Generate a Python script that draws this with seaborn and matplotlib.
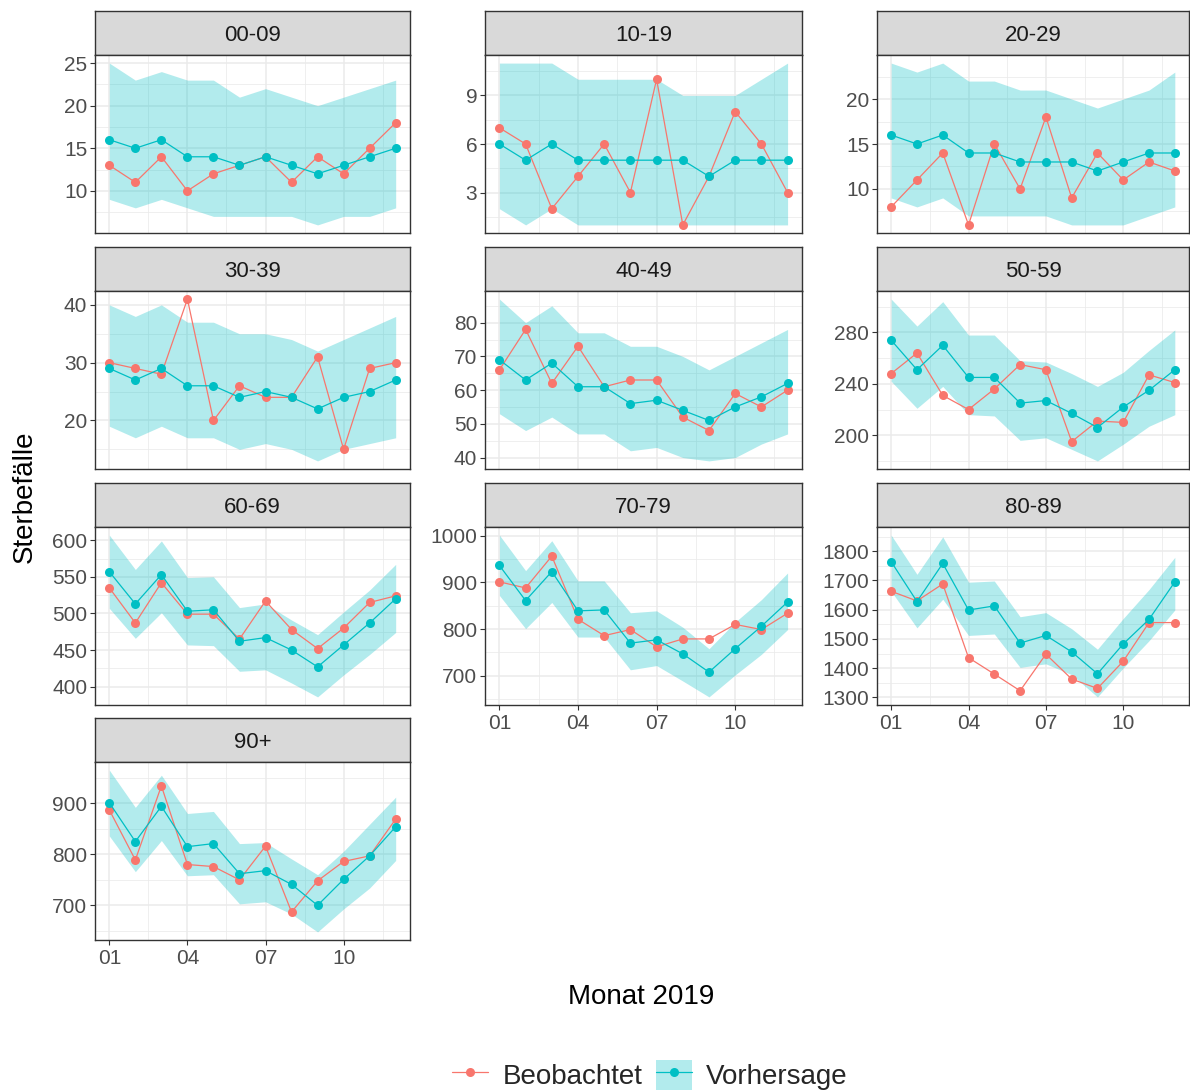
import matplotlib
matplotlib.use("Agg")
import numpy as np
import pandas as pd
import matplotlib.pyplot as plt
import seaborn as sns
from matplotlib.ticker import MultipleLocator, FixedLocator
from matplotlib.lines import Line2D
from matplotlib.patches import Patch
from matplotlib.legend_handler import HandlerTuple

# ---------------- data ----------------
altersgruppen = ["00-09", "10-19", "20-29", "30-39", "40-49",
                 "50-59", "60-69", "70-79", "80-89", "90+"]
monate = list(range(1, 13))
monat_ticks = [1, 4, 7, 10]
monat_labels = ["01", "04", "07", "10"]

beobachtet = {
    "00-09": [13, 11, 14, 10, 12, 13, 14, 11, 14, 12, 15, 18],
    "10-19": [7, 6, 2, 4, 6, 3, 10, 1, 4, 8, 6, 3],
    "20-29": [8, 11, 14, 6, 15, 10, 18, 9, 14, 11, 13, 12],
    "30-39": [30, 29, 28, 41, 20, 26, 24, 24, 31, 15, 29, 30],
    "40-49": [66, 78, 62, 73, 61, 63, 63, 52, 48, 59, 55, 60],
    "50-59": [248, 264, 231, 220, 236, 255, 251, 195, 211, 210, 247, 241],
    "60-69": [535, 487, 542, 499, 499, 465, 517, 478, 452, 480, 515, 524],
    "70-79": [901, 888, 956, 821, 786, 799, 762, 779, 779, 810, 799, 834],
    "80-89": [1663, 1630, 1688, 1436, 1380, 1323, 1448, 1363, 1331, 1424, 1556, 1556],
    "90+":   [887, 789, 934, 780, 776, 750, 816, 687, 748, 786, 797, 869],
}
vorhersage = {
    "00-09": [16, 15, 16, 14, 14, 13, 14, 13, 12, 13, 14, 15],
    "10-19": [6, 5, 6, 5, 5, 5, 5, 5, 4, 5, 5, 5],
    "20-29": [16, 15, 16, 14, 14, 13, 13, 13, 12, 13, 14, 14],
    "30-39": [29, 27, 29, 26, 26, 24, 25, 24, 22, 24, 25, 27],
    "40-49": [69, 63, 68, 61, 61, 56, 57, 54, 51, 55, 58, 62],
    "50-59": [274, 251, 270, 245, 245, 225, 227, 217, 206, 222, 235, 251],
    "60-69": [557, 513, 553, 503, 505, 462, 467, 450, 427, 457, 487, 520],
    "70-79": [936, 861, 923, 839, 841, 770, 777, 747, 708, 758, 806, 858],
    "80-89": [1764, 1628, 1758, 1599, 1613, 1486, 1512, 1456, 1381, 1483, 1567, 1695],
    "90+":   [901, 825, 894, 815, 821, 762, 768, 741, 700, 751, 797, 854],
}
untere_grenze = {
    "00-09": [9, 8, 9, 8, 7, 7, 7, 7, 6, 7, 7, 8],
    "10-19": [2, 1, 2, 1, 1, 1, 1, 1, 1, 1, 1, 1],
    "20-29": [9, 8, 9, 7, 7, 7, 7, 6, 6, 6, 7, 8],
    "30-39": [19, 17, 19, 17, 17, 15, 16, 15, 13, 15, 16, 17],
    "40-49": [53, 48, 52, 47, 47, 42, 43, 40, 39, 40, 44, 47],
    "50-59": [242, 221, 238, 216, 215, 196, 198, 189, 180, 193, 207, 216],
    "60-69": [507, 466, 501, 457, 456, 421, 423, 405, 386, 416, 444, 474],
    "70-79": [872, 801, 857, 783, 783, 713, 722, 689, 655, 702, 746, 799],
    "80-89": [1663, 1538, 1636, 1512, 1517, 1403, 1415, 1378, 1302, 1401, 1494, 1599],
    "90+":   [836, 766, 827, 758, 760, 703, 707, 683, 648, 693, 734, 788],
}
obere_grenze = {
    "00-09": [25, 23, 24, 23, 23, 21, 22, 21, 20, 21, 22, 23],
    "10-19": [11, 11, 11, 10, 10, 10, 10, 9, 9, 9, 10, 11],
    "20-29": [24, 23, 24, 22, 22, 21, 21, 20, 19, 20, 21, 23],
    "30-39": [40, 38, 40, 37, 37, 35, 35, 34, 32, 34, 36, 38],
    "40-49": [87, 80, 85, 77, 77, 73, 73, 70, 66, 70, 74, 78],
    "50-59": [306, 285, 304, 278, 278, 258, 257, 248, 238, 249, 266, 282],
    "60-69": [607, 560, 599, 549, 550, 508, 513, 491, 471, 502, 532, 567],
    "70-79": [1001, 925, 989, 903, 903, 835, 839, 804, 758, 815, 863, 920],
    "80-89": [1855, 1721, 1849, 1694, 1698, 1576, 1590, 1535, 1465, 1570, 1669, 1779],
    "90+":   [965, 892, 955, 880, 884, 821, 823, 791, 760, 806, 859, 912],
}

# tick spacing of each panel's y axis (style)
y_steps = [5, 3, 5, 10, 10, 40, 50, 100, 100, 100]

# ---------------- style ----------------
RED = "#F8766D"
TEAL = "#00BFC4"
sns.set_theme(style="white")
plt.rcParams["font.family"] = ["Liberation Sans", "DejaVu Sans"]

FIG_W, FIG_H = 1190, 1090
fig = plt.figure(figsize=(FIG_W / 100, FIG_H / 100), dpi=100)
fig.patch.set_facecolor("white")


def fx(px):
    return px / FIG_W


def fy(py):
    return 1 - py / FIG_H


col_left = [95, 485, 877]
col_w = [315, 317, 312]
row_top = [11, 247, 483, 718]
strip_h = 44
panel_h = 178
BORDER = "#333333"

for i, g in enumerate(altersgruppen):
    r, c = divmod(i, 3)
    x0, w = col_left[c], col_w[c]
    top = row_top[r]

    # strip
    sax = fig.add_axes([fx(x0), fy(top + strip_h), w / FIG_W, strip_h / FIG_H])
    sax.set_facecolor("#D9D9D9")
    sax.set_xticks([])
    sax.set_yticks([])
    for sp in sax.spines.values():
        sp.set_color(BORDER)
        sp.set_linewidth(1.0)
    sax.text(0.5, 0.45, g, ha="center", va="center", fontsize=16,
             color="#1A1A1A", transform=sax.transAxes)

    # panel
    ax = fig.add_axes([fx(x0), fy(top + strip_h + panel_h), w / FIG_W, panel_h / FIG_H])
    beob = beobachtet[g]
    vorh = vorhersage[g]
    lo = untere_grenze[g]
    hi = obere_grenze[g]

    ax.fill_between(monate, lo, hi, color=TEAL, alpha=0.3, linewidth=0, zorder=1)
    df = pd.DataFrame({
        "Monat": monate * 2,
        "Sterbefälle": beob + vorh,
        "Typ": ["Beobachtet"] * 12 + ["Vorhersage"] * 12,
    })
    sns.lineplot(data=df, x="Monat", y="Sterbefälle", hue="Typ",
                 hue_order=["Beobachtet", "Vorhersage"],
                 palette={"Beobachtet": RED, "Vorhersage": TEAL},
                 marker="o", markersize=6.5, markeredgewidth=0,
                 linewidth=0.9, errorbar=None, legend=False, ax=ax, zorder=3)

    allv = lo + hi + beob + vorh
    vmin, vmax = min(allv), max(allv)
    pad = 0.05 * (vmax - vmin)
    ax.set_ylim(vmin - pad, vmax + pad)
    ax.set_xlim(0.45, 12.55)

    ax.xaxis.set_major_locator(FixedLocator(monat_ticks))
    ax.xaxis.set_minor_locator(FixedLocator([2.5, 5.5, 8.5, 11.5]))
    step = y_steps[i]
    ax.yaxis.set_major_locator(MultipleLocator(step))
    ax.yaxis.set_minor_locator(MultipleLocator(step / 2))

    ax.set_axisbelow(True)
    ax.grid(which="major", color="#EBEBEB", linewidth=1.1)
    ax.grid(which="minor", color="#EBEBEB", linewidth=0.55)
    ax.set_facecolor("white")
    for sp in ax.spines.values():
        sp.set_color(BORDER)
        sp.set_linewidth(1.0)
        sp.set_visible(True)

    ax.set_xlabel("")
    ax.set_ylabel("")
    ax.tick_params(which="minor", length=0)
    ax.tick_params(axis="y", which="major", length=3.5, width=0.8, color=BORDER,
                   labelsize=15, labelcolor="#4D4D4D", pad=2, left=True)
    show_x = i >= 7
    if show_x:
        ax.set_xticklabels(monat_labels)
        ax.tick_params(axis="x", which="major", length=3.5, width=0.8, color=BORDER,
                       labelsize=15, labelcolor="#4D4D4D", pad=3, bottom=True)
    else:
        ax.set_xticklabels([])
        ax.tick_params(axis="x", which="major", length=0)

# axis titles
fig.text(fx(641), fy(997), "Monat 2019", ha="center", va="center", fontsize=20, color="black")
fig.text(fx(25), fy(497), "Sterbefälle", ha="center", va="center", rotation=90,
         fontsize=20, color="black")

# legend
h_beob = Line2D([], [], color=RED, marker="o", markersize=6.5, markeredgewidth=0, linewidth=0.9)
h_vorh = (Patch(facecolor=TEAL, alpha=0.3, edgecolor="none"),
          Line2D([], [], color=TEAL, marker="o", markersize=6.5, markeredgewidth=0, linewidth=0.9))
fig.legend([h_beob, h_vorh], ["Beobachtet", "Vorhersage"],
           handler_map={tuple: HandlerTuple(ndivide=1, pad=0)},
           loc="center", bbox_to_anchor=(fx(650), fy(1075)), ncol=2, frameon=False,
           fontsize=20, handlelength=1.3, handleheight=1.3, handletextpad=0.5,
           columnspacing=0.5, borderpad=0)

fig.savefig("out.png", dpi=100, facecolor="white")
